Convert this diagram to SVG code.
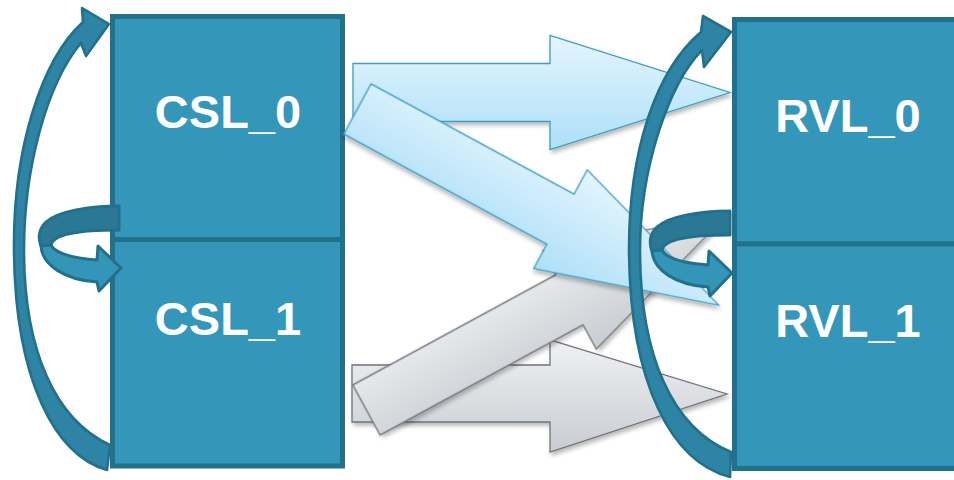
<svg xmlns="http://www.w3.org/2000/svg" width="954" height="480" viewBox="0 0 954 480">
  <style>
    .box { fill: #3497b9; stroke: #23708a; stroke-width: 5; }
    .label { font-family: "Liberation Sans", Arial, sans-serif; font-weight: bold; font-size: 47px; fill: #ffffff; text-anchor: middle; }
    .blue { fill: url(#gBlue); stroke: #3a9fc2; stroke-width: 1.3; stroke-linejoin: miter; filter: url(#shadow); }
    .gray { fill: url(#gGray); stroke: #6e747b; stroke-width: 1.3; stroke-linejoin: miter; filter: url(#shadow); }
    .arc { fill: #2d84a4; stroke: #22708a; stroke-width: 2.6; stroke-linejoin: round; }
    .back { fill: #2a7896; stroke: #22708a; stroke-width: 3; stroke-linejoin: round; }
    .front { fill: #3396b8; stroke: #22708a; stroke-width: 3; stroke-linejoin: round; }
  </style>
  <defs>
    <linearGradient id="gBlue" x1="0" y1="0" x2="0" y2="1">
      <stop offset="0" stop-color="#e4f5fe"/>
      <stop offset="1" stop-color="#aedff7"/>
    </linearGradient>
    <linearGradient id="gGray" x1="0" y1="0" x2="0" y2="1">
      <stop offset="0" stop-color="#eff1f3"/>
      <stop offset="1" stop-color="#c9ccd1"/>
    </linearGradient>
    <filter id="shadow" x="-10%" y="-20%" width="130%" height="150%">
      <feDropShadow dx="2" dy="3" stdDeviation="2" flood-color="#000000" flood-opacity="0.28"/>
    </filter>
    <!-- block arrow, 411 long, shaft 57 wide, head 112 wide -->
    <path id="blockArrow" d="M0,-28.5 L231,-28.5 L231,-56 L411,0 L231,56 L231,28.5 L0,28.5 Z"/>
    <!-- ribbon loop turning from the upper box into the lower one -->
    <g id="loop">
      <path class="back" d="M119,206 C90,206 58,211 46,222 C39,229 38,238 41,246 L51,245 C53,236 70,230 119,230 Z"/>
      <path class="front" d="M41,246 C42,265 65,280 97,282 L99,291 L121,268 L98,246 L97,260 C72,258 55,253 51,245 Z"/>
    </g>
  </defs>

  <rect width="954" height="480" fill="#ffffff"/>

  <g id="CSL_0">
    <rect class="box" x="112.5" y="16.5" width="230" height="223"/>
    <text class="label" x="228" y="128">CSL_0</text>
  </g>
  <g id="CSL_1">
    <rect class="box" x="112.5" y="239.5" width="230" height="226.5"/>
    <text class="label" x="228" y="335">CSL_1</text>
  </g>
  <g id="RVL_0">
    <rect class="box" x="734.5" y="19.5" width="260" height="224.5"/>
    <text class="label" x="848" y="132">RVL_0</text>
  </g>
  <g id="RVL_1">
    <rect class="box" x="734.5" y="244" width="260" height="224.5"/>
    <text class="label" x="848" y="337">RVL_1</text>
  </g>

  <g id="connectors">
    <!-- CSL_0 -> RVL_0 -->
    <path class="blue" d="M353,63.5 L550,63.5 L550,35.5 L730,92.5 L550,149.5 L550,121.5 L353,121.5 Z"/>
    <!-- CSL_1 -> RVL_1 -->
    <path class="gray" d="M352,365 L550,365 L550,340 L727,394 L550,452 L550,422 L352,422 Z"/>
    <!-- CSL_1 -> RVL_0 -->
    <use href="#blockArrow" class="gray" transform="translate(366.5,410) rotate(-28.5)"/>
    <!-- CSL_0 -> RVL_1 -->
    <use href="#blockArrow" class="blue" transform="translate(357.5,109) rotate(28.5)"/>

    <!-- CSL_1 back to CSL_0 -->
    <path class="arc" d="M107,470 C55,455 15,380 14,250 C13,150 41,60 83,22 L82,8 L109,24 L86,56 L81,43 C46,85 24,170 24,250 C24,350 55,420 110,445 Z"/>
    <!-- RVL_1 back to RVL_0 -->
    <path class="arc" d="M730,477 C672,462 630,385 629,250 C629,150 656,70 701,32 L703,16 L731,32 L704,67 L702,50 C668,85 640,170 640,250 C640,355 672,428 731,452 Z"/>

    <!-- CSL_0 -> CSL_1 -->
    <use href="#loop"/>
    <!-- RVL_0 -> RVL_1 -->
    <use href="#loop" transform="translate(611,5)"/>
  </g>
</svg>
